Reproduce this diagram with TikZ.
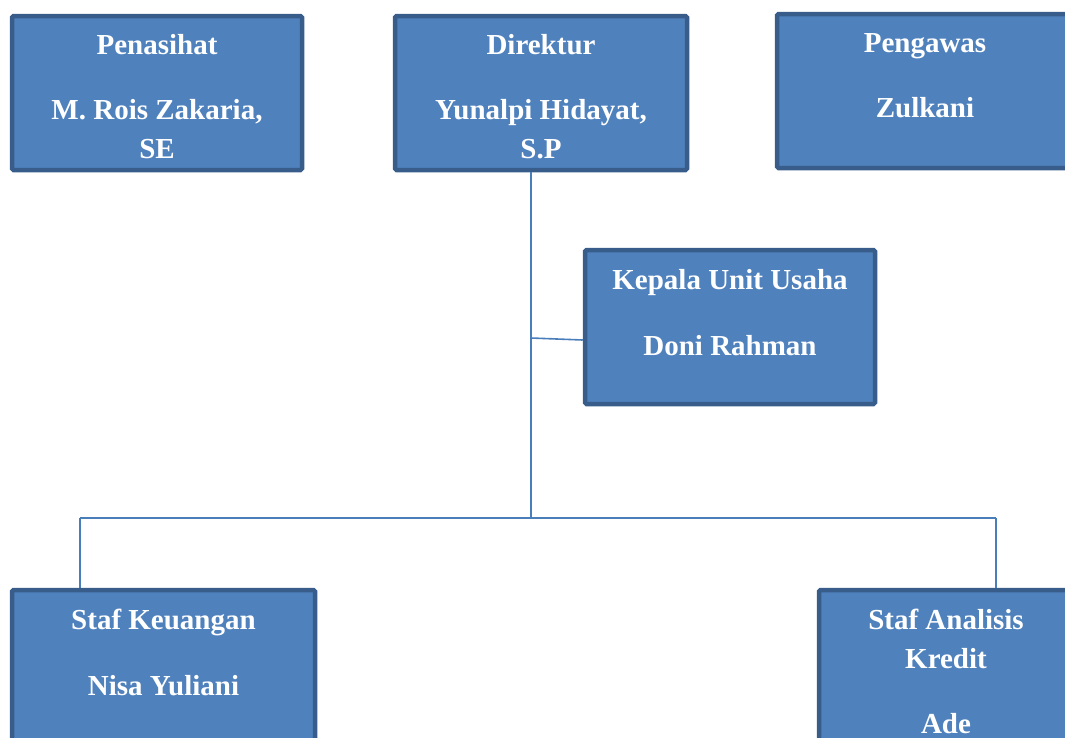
\documentclass[tikz,border=0pt]{standalone}
\usepackage{fontspec}
\setmainfont{Liberation Serif}
\usetikzlibrary{calc}
\definecolor{boxfill}{HTML}{4F81BD}
\definecolor{boxline}{HTML}{385D8A}
\definecolor{conn}{HTML}{4A7EBB}
\begin{document}
\begin{tikzpicture}[x=1pt,y=-1pt,
  orgbox/.style={draw=boxline, fill=boxfill, line width=4.5pt, rounded corners=1.5pt, inner sep=0pt},
  lbl/.style={anchor=base, text=white, font=\fontsize{29}{35}\selectfont\bfseries, inner sep=0pt},
  link/.style={draw=conn, line width=1.6pt}]
\useasboundingbox (0,0) rectangle (1065,737);
\begin{scope}
\clip (0,0) rectangle (1065,737);
% boxes
\node[orgbox, minimum width=290, minimum height=154] (pen) at (157,93) {};
\node[orgbox, minimum width=292, minimum height=154] (dir) at (541,93) {};
\node[orgbox, minimum width=296, minimum height=154] (pgw) at (925,91) {};
\node[orgbox, minimum width=290, minimum height=154] (kep) at (730,327) {};
\node[orgbox, minimum width=303, minimum height=154] (keu) at (163.5,667) {};
\node[orgbox, minimum width=254, minimum height=154] (ana) at (946,667) {};
% connectors
\coordinate (j1) at (531,518);
\coordinate (jl) at (80,518);
\coordinate (jr) at (996,518);
\coordinate (k1) at (531,338);
\draw[link] (dir.south -| j1) -- (j1);
\draw[link] (k1) -- ($(kep.west)+(0,13)$);
\draw[link] (jl) -- (jr);
\draw[link] (jl) -- (keu.north -| jl);
\draw[link] (jr) -- (ana.north -| jr);
% labels
\node[lbl] (t1) at (157,54) {Penasihat};
\node[lbl] (t2) at (157,119) {M. Rois Zakaria,};
\node[lbl] (t3) at (157,158) {SE};
\node[lbl] (t4) at (541,54) {Direktur};
\node[lbl] (t5) at (541,119) {Yunalpi Hidayat,};
\node[lbl] (t6) at (541,158) {S.P};
\node[lbl] (t7) at (925,52) {Pengawas};
\node[lbl] (t8) at (925,117) {Zulkani};
\node[lbl] (t9) at (730,289) {Kepala Unit Usaha};
\node[lbl] (t10) at (730,355) {Doni Rahman};
\node[lbl] (t11) at (163.5,629) {Staf Keuangan};
\node[lbl] (t12) at (163.5,695) {Nisa Yuliani};
\node[lbl] (t13) at (946,629) {Staf Analisis};
\node[lbl] (t14) at (946,668) {Kredit};
\node[lbl] (t15) at (946,733) {Ade};
\end{scope}
\end{tikzpicture}
\end{document}
